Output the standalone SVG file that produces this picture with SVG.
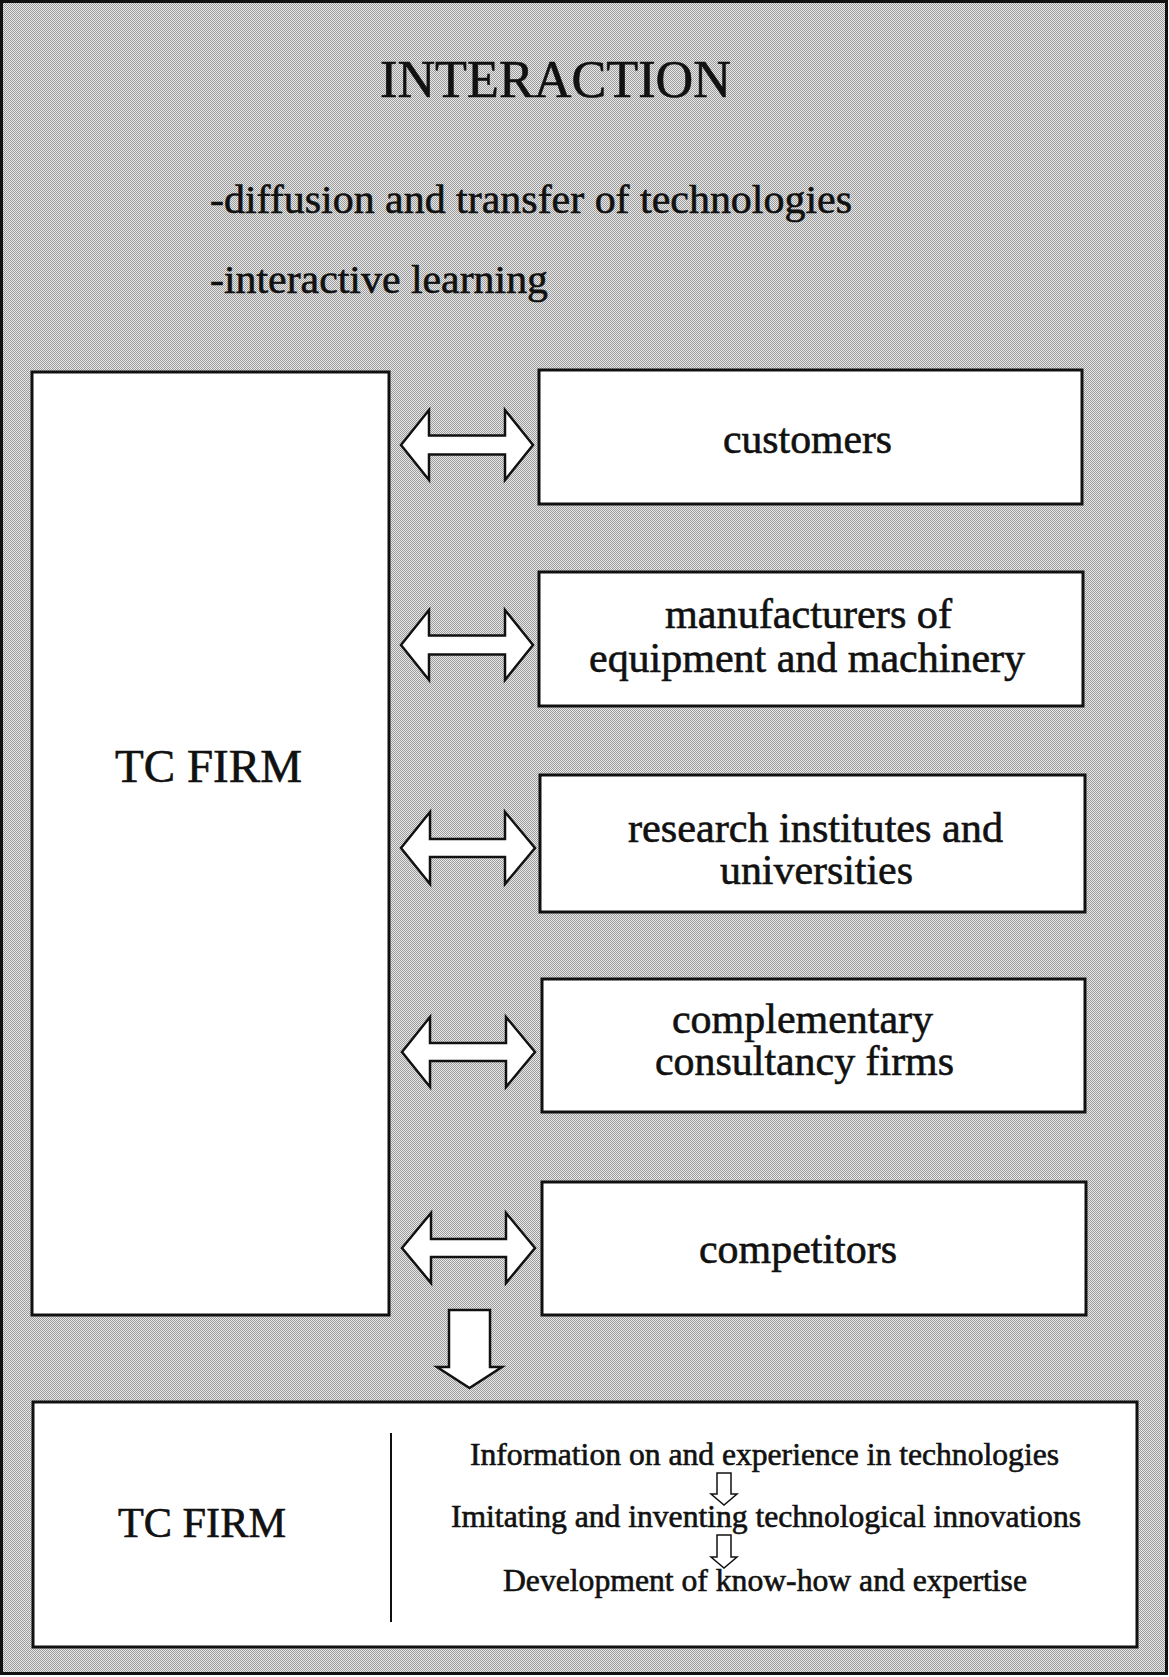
<svg xmlns="http://www.w3.org/2000/svg" width="1169" height="1677" viewBox="0 0 1169 1677">
<defs>
<pattern id="dots" patternUnits="userSpaceOnUse" width="2" height="2">
<rect x="0" y="0" width="2" height="2" fill="#e8e8e8"/>
<rect x="0" y="0" width="1" height="1" fill="#9c9c9c"/>
<rect x="1" y="1" width="1" height="1" fill="#9c9c9c"/>
</pattern>
<style>
text{font-family:"Liberation Serif","Times New Roman",serif;fill:#111;stroke:#111;stroke-width:0.6}
.box{fill:#fff;stroke:#111;stroke-width:3}
.arr{fill:#fff;stroke:#111;stroke-width:2.5;stroke-linejoin:miter}
.sarr{fill:#fff;stroke:#111;stroke-width:1.5}
.lbl{font-size:42px;text-anchor:middle}
.mid{text-anchor:middle}
</style>
</defs>
<rect x="1.5" y="1.5" width="1165" height="1672" fill="url(#dots)" stroke="#111" stroke-width="3"/>

<g id="header">
<text x="555.5" y="97" class="mid" font-size="52" textLength="351" lengthAdjust="spacingAndGlyphs">INTERACTION</text>
<text x="210" y="213" font-size="41" textLength="642" lengthAdjust="spacingAndGlyphs">-diffusion and transfer of technologies</text>
<text x="210" y="293" font-size="41" textLength="338" lengthAdjust="spacingAndGlyphs">-interactive learning</text>
</g>

<g id="tc-firm">
<rect class="box" x="32" y="372" width="357" height="943"/>
<text x="208.5" y="782" class="mid" font-size="47" textLength="187" lengthAdjust="spacingAndGlyphs">TC FIRM</text>
</g>

<g id="customers">
<rect class="box" x="539" y="370" width="543" height="134"/>
<text x="807.5" y="453" class="lbl" textLength="169" lengthAdjust="spacingAndGlyphs">customers</text>
</g>

<g id="manufacturers">
<rect class="box" x="539" y="572" width="544" height="134"/>
<text x="808.5" y="628" class="lbl" textLength="287" lengthAdjust="spacingAndGlyphs">manufacturers of</text>
<text x="807" y="672" class="lbl" textLength="436" lengthAdjust="spacingAndGlyphs">equipment and machinery</text>
</g>

<g id="research">
<rect class="box" x="540" y="775" width="545" height="137"/>
<text x="815.5" y="842" class="lbl" textLength="375" lengthAdjust="spacingAndGlyphs">research institutes and</text>
<text x="816.5" y="884" class="lbl" textLength="193" lengthAdjust="spacingAndGlyphs">universities</text>
</g>

<g id="complementary">
<rect class="box" x="542" y="979" width="543" height="133"/>
<text x="802.5" y="1033" class="lbl" textLength="261" lengthAdjust="spacingAndGlyphs">complementary</text>
<text x="804.5" y="1075" class="lbl" textLength="299" lengthAdjust="spacingAndGlyphs">consultancy firms</text>
</g>

<g id="competitors">
<rect class="box" x="542" y="1182" width="544" height="133"/>
<text x="798" y="1263" class="lbl" textLength="198" lengthAdjust="spacingAndGlyphs">competitors</text>
</g>

<g id="tc-firm-result">
<rect class="box" x="33" y="1402" width="1104" height="245"/>
<line x1="391" y1="1433" x2="391" y2="1622" stroke="#111" stroke-width="2"/>
<text x="202" y="1537" class="mid" font-size="42" textLength="168" lengthAdjust="spacingAndGlyphs">TC FIRM</text>
<text x="764.5" y="1465" class="mid" font-size="31" textLength="589" lengthAdjust="spacingAndGlyphs">Information on and experience in technologies</text>
<text x="766" y="1527" class="mid" font-size="31" textLength="630" lengthAdjust="spacingAndGlyphs">Imitating and inventing technological innovations</text>
<text x="765" y="1591" class="mid" font-size="31" textLength="524" lengthAdjust="spacingAndGlyphs">Development of know-how and expertise</text>
</g>

<g id="connectors">
<path class="arr" d="M401,445 L429,410 L429,435.5 L505,435.5 L505,410 L533,445 L505,480 L505,454.5 L429,454.5 L429,480 Z"/>
<path class="arr" d="M401,645 L429,610 L429,635.5 L505,635.5 L505,610 L533,645 L505,680 L505,654.5 L429,654.5 L429,680 Z"/>
<path class="arr" d="M401,848 L430,812 L430,839 L505,839 L505,812 L535,848 L505,884 L505,857 L430,857 L430,884 Z"/>
<path class="arr" d="M402,1052 L430,1017 L430,1043 L506,1043 L506,1017 L535,1052 L506,1087 L506,1061 L430,1061 L430,1087 Z"/>
<path class="arr" d="M402,1248 L431,1213 L431,1239 L506,1239 L506,1213 L535,1248 L506,1283 L506,1257 L431,1257 L431,1283 Z"/>
<path class="arr" d="M449,1310 L490,1310 L490,1367 L502,1367 L469.5,1388 L437,1367 L449,1367 Z"/>
<path class="sarr" d="M717,1473 L731,1473 L731,1494 L737,1494 L724,1505 L711,1494 L717,1494 Z"/>
<path class="sarr" d="M717,1535 L731,1535 L731,1557 L737,1557 L724,1568 L711,1557 L717,1557 Z"/>
</g>
</svg>
